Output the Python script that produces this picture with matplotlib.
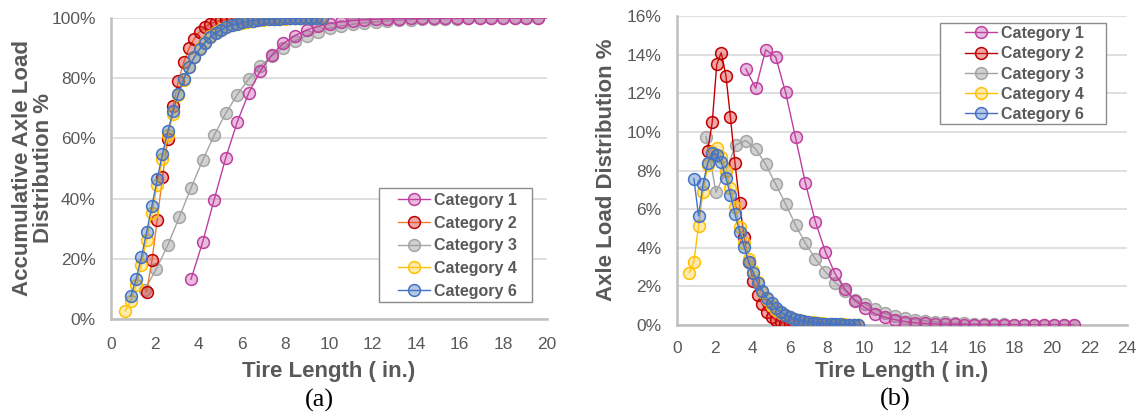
import numpy as np
import matplotlib
matplotlib.use("Agg")
import matplotlib.pyplot as plt
from matplotlib.patches import Rectangle

plt.rcParams["font.family"] = ["Liberation Sans", "DejaVu Sans"]

# Tire-length bins (in.)
FINE_BINS = [0.66, 0.90, 1.15, 1.39, 1.63, 1.88, 2.12, 2.36, 2.61, 2.85,
             3.09, 3.34, 3.58, 3.82, 4.07, 4.31, 4.55, 4.80, 5.04, 5.28,
             5.53, 5.77, 6.01, 6.26, 6.50, 6.74, 6.99, 7.23, 7.47, 7.72,
             7.96, 8.20, 8.45, 8.69, 8.93, 9.18, 9.42, 9.66]
COARSE_BINS = [1.55, 2.08, 2.61, 3.14, 3.67, 4.20, 4.73, 5.26, 5.79, 6.32,
               6.85, 7.38, 7.91, 8.44, 8.97, 9.50, 10.03, 10.56, 11.09, 11.62,
               12.15, 12.68, 13.21, 13.74, 14.27, 14.80, 15.33, 15.86, 16.39, 16.92,
               17.45, 17.98, 18.51, 19.04, 19.57, 20.10, 20.63, 21.16]

# Axle load distribution per bin (%)
cat1_x = COARSE_BINS[4:]
cat1_load = [13.26, 12.26, 14.25, 13.89, 12.05, 9.71, 7.34, 5.35, 3.80, 2.64,
             1.85, 1.25, 0.90, 0.58, 0.40, 0.28, 0.18, 0.12, 0.08, 0.06,
             0.04, 0.03, 0.02, 0.02, 0.01, 0.01, 0.01, 0.01, 0.0, 0.0,
             0.0, 0.0, 0.0, 0.0]

cat2_x = FINE_BINS[4:]
cat2_load = [9.0, 10.5, 13.5, 14.1, 12.9, 10.75, 8.4, 6.3, 4.55, 3.28,
             2.28, 1.55, 1.09, 0.69, 0.43, 0.26, 0.16, 0.10, 0.07, 0.05,
             0.04, 0.03, 0.02, 0.02, 0.01, 0.01, 0.01, 0.01, 0.0, 0.0,
             0.0, 0.0, 0.0, 0.0]

cat3_x = COARSE_BINS
cat3_load = [9.76, 6.87, 8.0, 9.33, 9.55, 9.12, 8.32, 7.3, 6.27, 5.18,
             4.23, 3.42, 2.76, 2.19, 1.78, 1.30, 1.09, 0.81, 0.60, 0.47,
             0.36, 0.28, 0.22, 0.17, 0.13, 0.10, 0.08, 0.06, 0.05, 0.04,
             0.03, 0.02, 0.02, 0.01, 0.01, 0.01, 0.0, 0.0]

cat4_x = FINE_BINS
cat4_load = [2.71, 3.28, 5.15, 6.87, 8.26, 8.98, 9.15, 8.72, 8.0, 7.11,
             6.13, 5.09, 4.23, 3.40, 2.81, 2.25, 1.73, 1.33, 1.00, 0.78,
             0.62, 0.50, 0.40, 0.32, 0.25, 0.20, 0.16, 0.13, 0.10, 0.08,
             0.06, 0.05, 0.04, 0.03, 0.03, 0.02, 0.02, 0.01]

cat6_x = FINE_BINS[1:]
cat6_load = [7.58, 5.65, 7.3, 8.37, 8.93, 8.8, 8.43, 7.63, 6.75, 5.75,
             4.84, 4.06, 3.28, 2.68, 2.19, 1.78, 1.38, 1.12, 0.88, 0.68,
             0.53, 0.42, 0.33, 0.26, 0.20, 0.15, 0.12, 0.09, 0.07, 0.05,
             0.04, 0.03, 0.03, 0.02, 0.02, 0.01, 0.01]

labels = ["Category 1", "Category 2", "Category 3", "Category 4", "Category 6"]
xs = [cat1_x, cat2_x, cat3_x, cat4_x, cat6_x]
loads = [cat1_load, cat2_load, cat3_load, cat4_load, cat6_load]

edge_colors = ["#BF3F9F", "#C00000", "#A5A5A5", "#FFC000", "#4472C4"]
line_colors_a = ["#BF3F9F", "#ED7D31", "#A5A5A5", "#FFC000", "#4472C4"]
line_colors_b = ["#BF3F9F", "#C00000", "#A5A5A5", "#FFC000", "#4472C4"]
face_colors = [(0.75, 0.25, 0.62, 0.35), (0.85, 0.15, 0.15, 0.40),
               (0.60, 0.60, 0.60, 0.45), (1.0, 0.80, 0.20, 0.40),
               (0.27, 0.45, 0.77, 0.40)]
zorders = [4, 5, 3, 6, 7]

TEXT = "#595959"
AXIS = "#BFBFBF"
GRID = "#D9D9D9"

fig = plt.figure(figsize=(11.43, 4.17), dpi=100)
W, H = 1143, 417
axA = fig.add_axes([111 / W, 1 - 319 / H, 436 / W, 301 / H])
axB = fig.add_axes([677 / W, 1 - 325 / H, 450 / W, 309 / H])


def style(ax, xmax, xstep, ymax, ystep):
    ax.set_xlim(0, xmax)
    ax.set_ylim(0, ymax)
    ax.set_xticks(np.arange(0, xmax + 0.01, xstep))
    ax.set_yticks(np.arange(0, ymax + 0.01, ystep))
    ax.set_xticklabels([f"{v:g}" for v in ax.get_xticks()])
    ax.set_yticklabels([f"{v:g}%" for v in ax.get_yticks()])
    for s in ["top", "right"]:
        ax.spines[s].set_visible(False)
    for s in ["left", "bottom"]:
        ax.spines[s].set_color(AXIS)
        ax.spines[s].set_linewidth(1.8)
        ax.spines[s].set_zorder(1)
    ax.yaxis.grid(True, color=GRID, linewidth=1.2)
    ax.set_axisbelow(True)
    ax.tick_params(axis="both", length=0, labelsize=12.5, colors=TEXT)
    ax.tick_params(axis="y", pad=11)


style(axA, 20, 2, 100, 20)
style(axB, 24, 2, 16, 2)
axA.tick_params(axis="x", pad=13)
axB.tick_params(axis="x", pad=11.5)

MS = 8.5
handles_a, handles_b = [], []
for i in range(5):
    x = np.array(xs[i])
    load = np.array(loads[i])
    cum = np.cumsum(load) / load.sum() * 100
    shown = [j for j in range(len(x)) if x[j] <= 20]
    ha, = axA.plot(x, cum, color=line_colors_a[i], lw=1.0, marker="o", ms=MS,
                   mfc=face_colors[i], mec=edge_colors[i], mew=1.1,
                   markevery=shown, zorder=zorders[i], label=labels[i])
    hb, = axB.plot(x, load, color=line_colors_b[i], lw=1.0, marker="o", ms=MS,
                   mfc=face_colors[i], mec=edge_colors[i], mew=1.1,
                   zorder=zorders[i], label=labels[i])
    handles_a.append(ha)
    handles_b.append(hb)


def add_legend(ax, handles, box, anchor, spacing):
    x0, y0, x1, y1 = box
    ax.add_patch(Rectangle((x0 / W, 1 - y1 / H), (x1 - x0) / W, (y1 - y0) / H,
                           transform=fig.transFigure, facecolor="white",
                           edgecolor="#8C8C8C", linewidth=1.0, clip_on=False,
                           zorder=20))
    leg = ax.legend(handles=handles, labels=labels, loc="upper left",
                    bbox_to_anchor=(anchor[0] / W, 1 - anchor[1] / H),
                    bbox_transform=fig.transFigure,
                    prop={"weight": "bold", "size": 11.5}, frameon=False,
                    borderpad=0, labelspacing=spacing, handlelength=2.0,
                    handletextpad=0.25, borderaxespad=0)
    leg.set_zorder(21)
    for t in leg.get_texts():
        t.set_color(TEXT)
    return leg


add_legend(axA, handles_a, (379, 188, 532, 302), (398, 193), 0.48)
add_legend(axB, handles_b, (940, 23, 1106, 124), (965, 26), 0.33)

fig.text(33 / W, 1 - 168 / H, "Accumulative Axle Load\nDistribution %", rotation=90,
         ha="center", va="center", fontsize=16, fontweight="bold", color=TEXT,
         linespacing=1.0)
fig.text(606 / W, 1 - 170 / H, "Axle Load Distribution %", rotation=90,
         ha="center", va="center", fontsize=16, fontweight="bold", color=TEXT)

fig.text(329 / W, 1 - 371 / H, "Tire Length ( in.)", ha="center", va="center",
         fontsize=16, fontweight="bold", color=TEXT)
fig.text(902 / W, 1 - 371 / H, "Tire Length ( in.)", ha="center", va="center",
         fontsize=16, fontweight="bold", color=TEXT)

fig.text(319 / W, 1 - 400 / H, "(a)", ha="center", va="center", fontsize=19,
         family="Liberation Serif", color="black")
fig.text(895 / W, 1 - 399 / H, "(b)", ha="center", va="center", fontsize=19,
         family="Liberation Serif", color="black")

fig.savefig("out.png", dpi=100)
